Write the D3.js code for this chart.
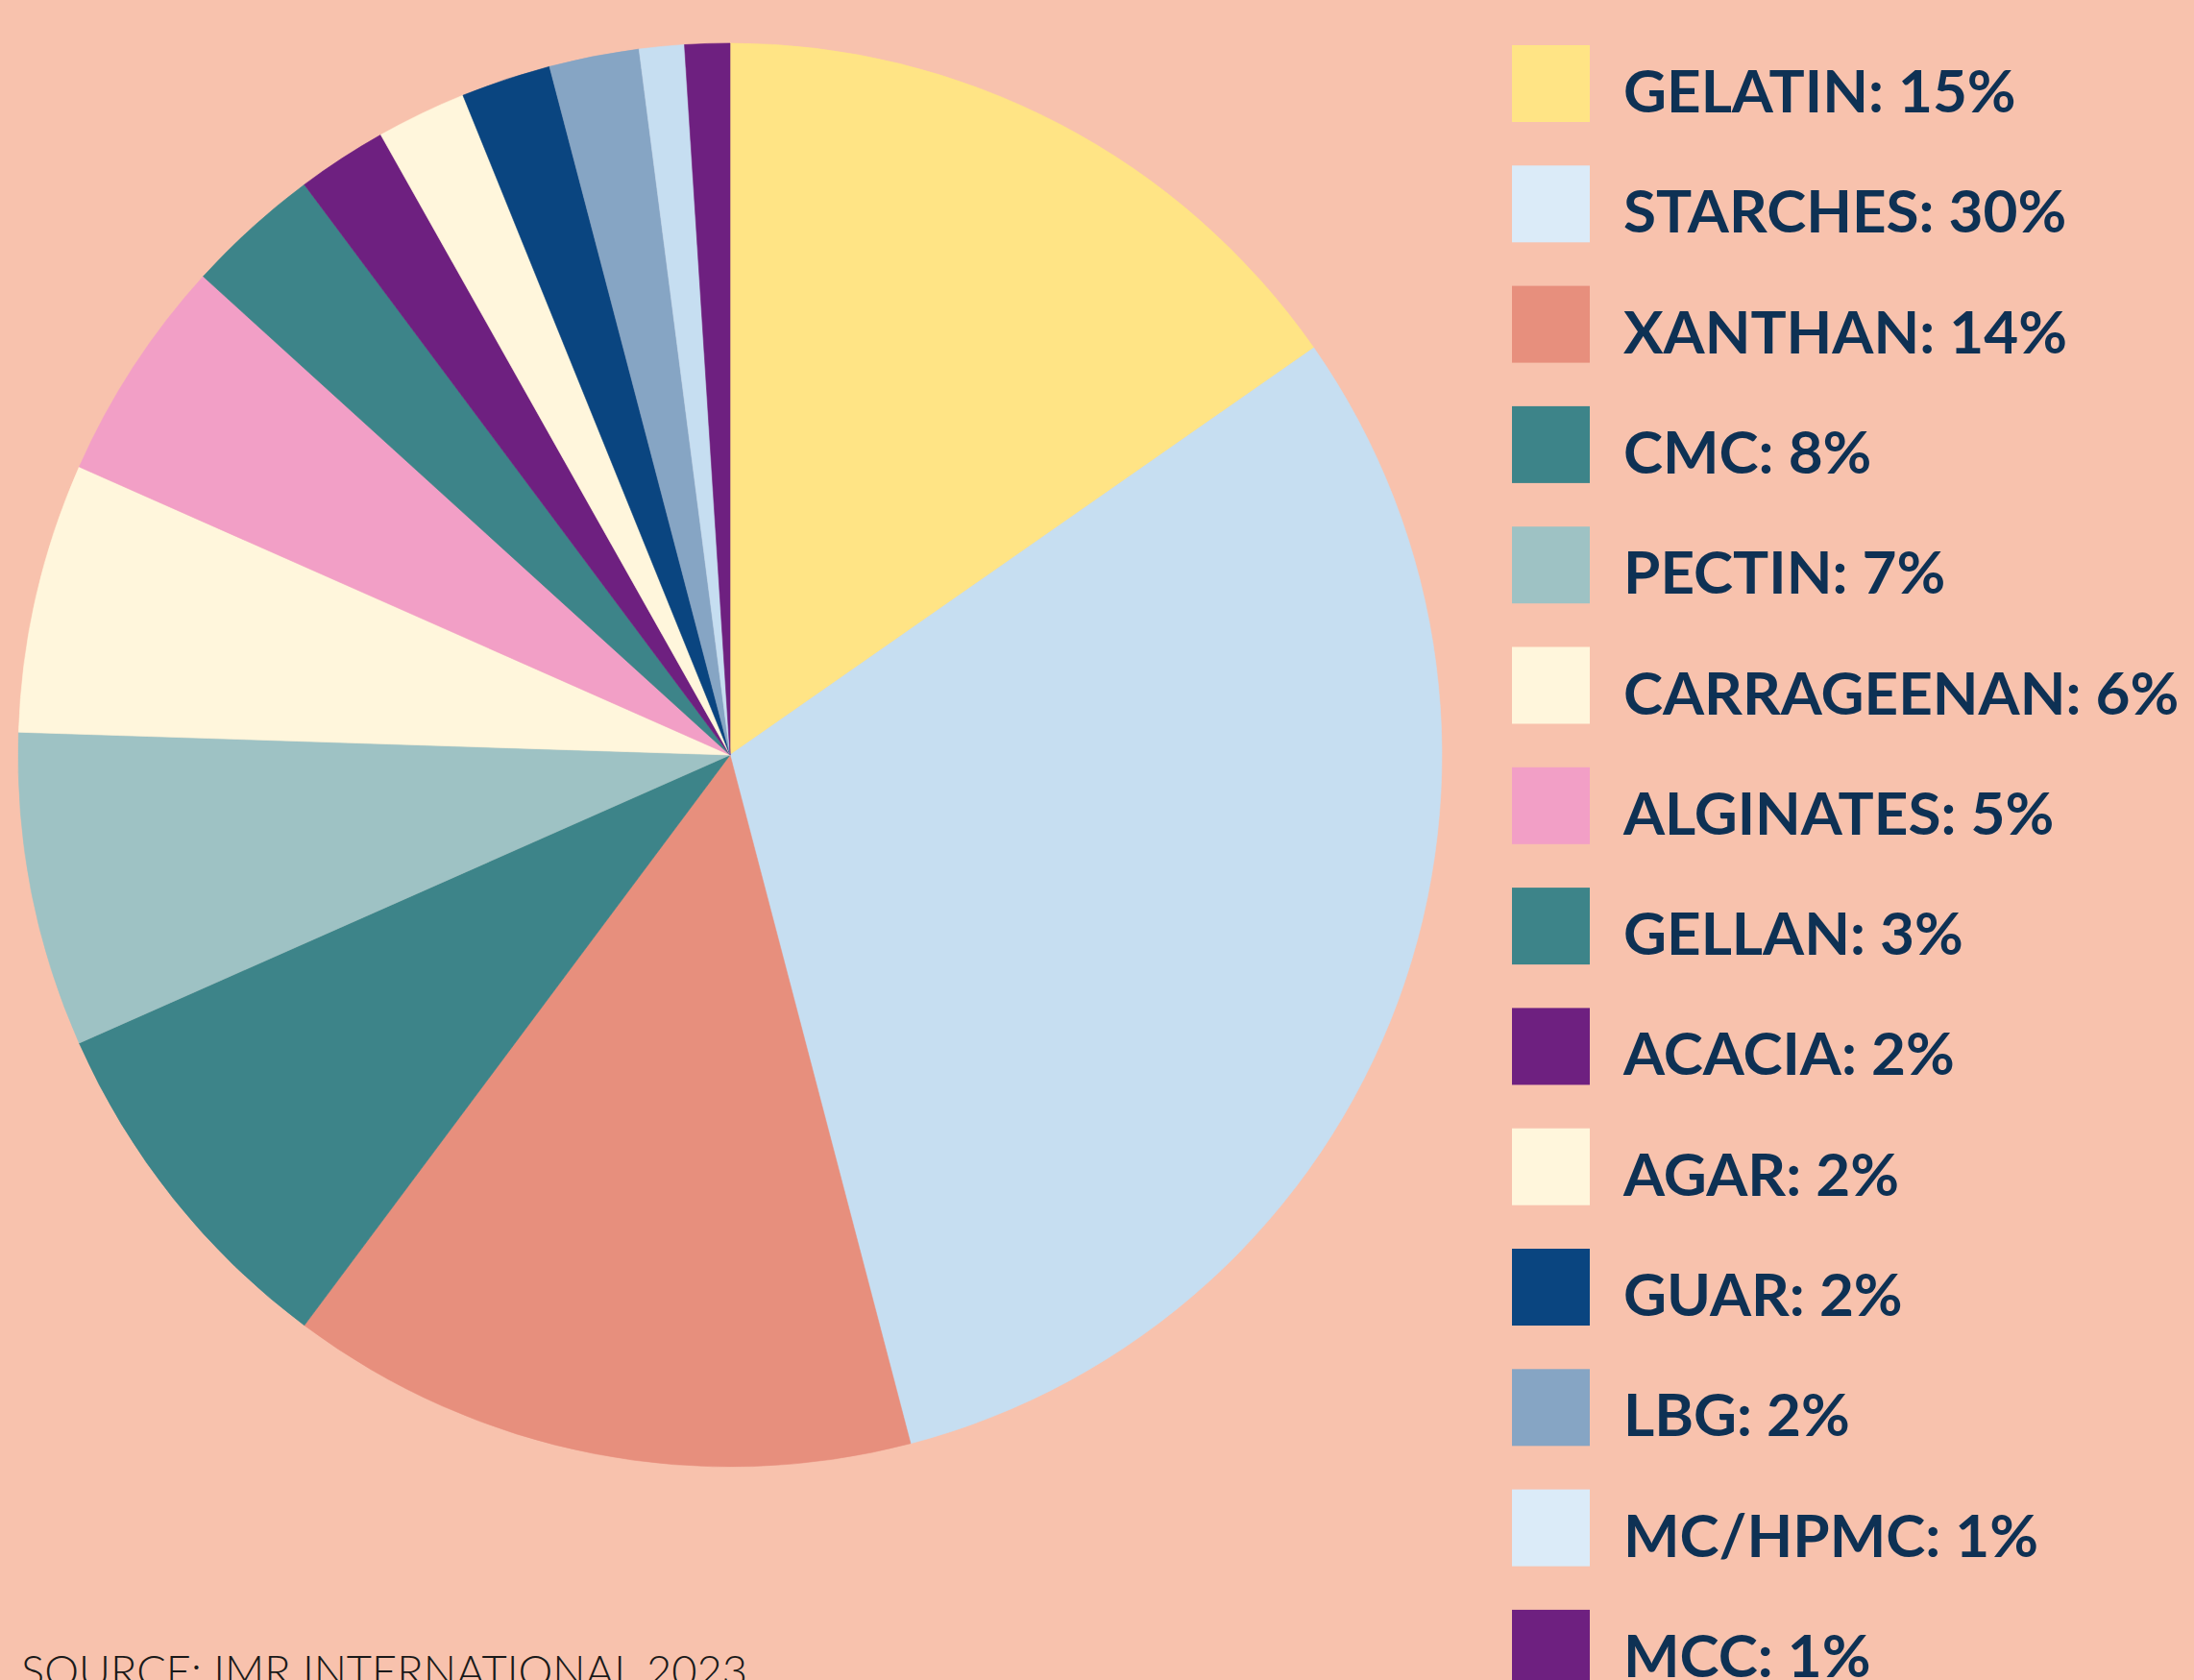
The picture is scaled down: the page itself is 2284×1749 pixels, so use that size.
<!DOCTYPE html>
<html>
<head>
<meta charset="utf-8">
<script src="https://cdn.jsdelivr.net/npm/d3@7"></script>
<style>
  html, body { margin: 0; padding: 0; background: #F8C2AD; }
  svg { display: block; }
</style>
</head>
<body>
<script>
// ---- data ----
const categories = ["GELATIN", "STARCHES", "XANTHAN", "CMC", "PECTIN", "CARRAGEENAN", "ALGINATES",
                    "GELLAN", "ACACIA", "AGAR", "GUAR", "LBG", "MC/HPMC", "MCC"];
const shares = [15, 30, 14, 8, 7, 6, 5, 3, 2, 2, 2, 2, 1, 1];
const sliceColors = ["#FFE485", "#C6DEF1", "#E78F7D", "#3D8489", "#9EC2C4", "#FFF6DC", "#F29FC6",
                     "#3D8489", "#6E2080", "#FFF6DC", "#0A4580", "#86A5C4", "#C6DEF1", "#6E2080"];
const legendColors = ["#FFE485", "#DBEBF8", "#E78F7D", "#3D8489", "#9EC2C4", "#FFF6DC", "#F29FC6",
                      "#3D8489", "#6E2080", "#FFF6DC", "#0A4580", "#86A5C4", "#DBEBF8", "#6E2080"];
const sourceNote = "SOURCE: IMR INTERNATIONAL 2023";

// ---- layout ----
const W = 2284, H = 1749;
const cx = 760, cy = 786, R = 741;

const svg = d3.select("body").append("svg").attr("width", W).attr("height", H);
svg.append("rect").attr("width", W).attr("height", H).attr("fill", "#F8C2AD");

const data = categories.map((c, i) => ({ name: c, value: shares[i], i }));

const pie = d3.pie().sort(null).value(d => d.value);
const arc = d3.arc().innerRadius(0).outerRadius(R);

svg.append("g").attr("transform", `translate(${cx},${cy})`)
  .selectAll("path").data(pie(data)).join("path")
  .attr("d", arc)
  .attr("fill", d => sliceColors[d.data.i])
  .attr("stroke", d => sliceColors[d.data.i])
  .attr("stroke-width", 0.6);

// legend
const yLeg = d3.scaleBand().domain(categories).range([47, 47 + 125.3 * categories.length]).paddingInner(0);
const leg = svg.append("g");
const rows = leg.selectAll("g").data(data).join("g")
  .attr("transform", d => `translate(1574,${yLeg(d.name)})`);
rows.append("rect").attr("width", 81).attr("height", 80).attr("fill", d => legendColors[d.i]);
rows.append("text")
  .attr("x", 116).attr("y", 70)
  .attr("font-family", "Lato, 'Open Sans', sans-serif")
  .attr("font-weight", 700)
  .attr("font-size", 62)
  .attr("fill", "#0E3154")
  .text(d => `${d.name}: ${d.value}%`);

// source
svg.append("text")
  .attr("x", 22).attr("y", 1756)
  .attr("font-family", "Lato, 'Open Sans', sans-serif")
  .attr("font-weight", 300)
  .attr("font-size", 46)
  .attr("fill", "#1a1a1a")
  .attr("textLength", 756)
  .attr("lengthAdjust", "spacingAndGlyphs")
  .text(sourceNote);
</script>
</body>
</html>
